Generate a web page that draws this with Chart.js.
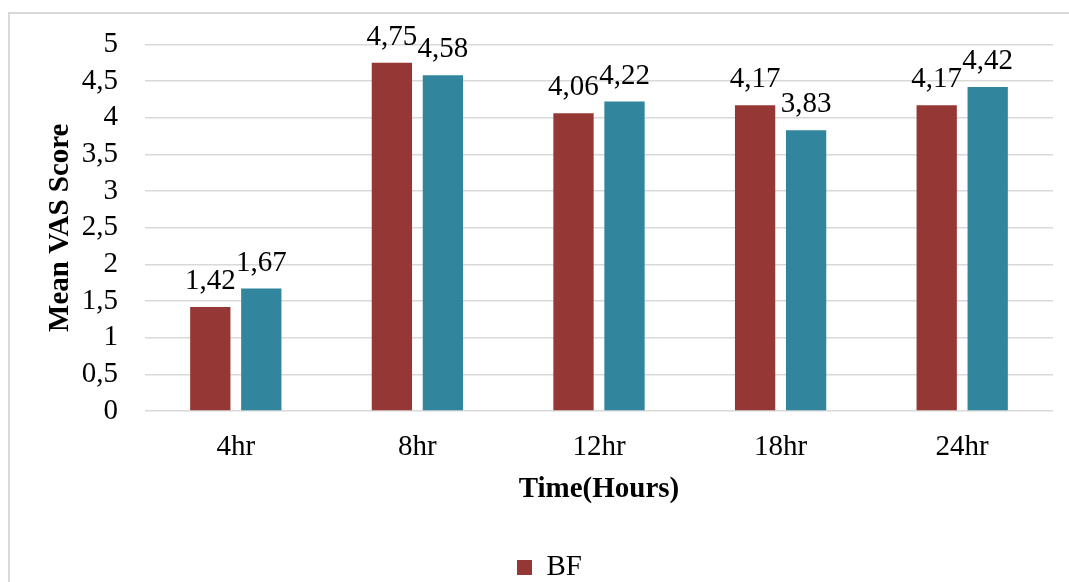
<!DOCTYPE html>
<html><head><meta charset="utf-8">
<script src="https://cdn.jsdelivr.net/npm/chart.js@4"></script>
<style>
html,body{margin:0;padding:0;overflow:hidden;background:#fff;width:1069px;height:582px}
#frame{position:absolute;left:8px;top:12px;width:1100px;height:700px;border:2px solid #d9d9d9;box-sizing:border-box}
#wrap{position:absolute;left:0;top:0;width:1069px;height:600px}
</style></head><body>
<div id="frame"></div>
<div id="wrap"><canvas id="c" width="1069" height="600"></canvas></div>
<script>
const categories = ['4hr', '8hr', '12hr', '18hr', '24hr'];
const bfValues = [1.42, 4.75, 4.06, 4.17, 4.17];
const secondValues = [1.67, 4.58, 4.22, 3.83, 4.42];
const seriesNames = ['BF', 'Series 2'];
const yAxisTitle = 'Mean VAS Score';
const xAxisTitle = 'Time(Hours)';

const FONT = "'Liberation Serif', 'Times New Roman', serif";
const FS = 29;
const fmt = v => String(v).replace('.', ',');

const valueLabels = {
  id: 'valueLabels',
  afterDatasetsDraw(chart) {
    const ctx = chart.ctx;
    ctx.save();
    ctx.font = FS + 'px ' + FONT;
    ctx.fillStyle = '#000';
    ctx.textAlign = 'center';
    ctx.textBaseline = 'alphabetic';
    chart.data.datasets.forEach((ds, i) => {
      chart.getDatasetMeta(i).data.forEach((bar, j) => {
        ctx.fillText(fmt(ds.data[j]), bar.x, bar.y - 18);
      });
    });
    ctx.restore();
  }
};

new Chart(document.getElementById('c'), {
  type: 'bar',
  data: {
    labels: categories,
    datasets: [
      { label: seriesNames[0], data: bfValues, backgroundColor: '#953735', borderWidth: 0,
        categoryPercentage: 0.5617, barPercentage: 0.79 },
      { label: seriesNames[1], data: secondValues, backgroundColor: '#31859C', borderWidth: 0,
        categoryPercentage: 0.5617, barPercentage: 0.79 }
    ]
  },
  options: {
    responsive: false,
    animation: false,
    devicePixelRatio: 1,
    layout: { padding: { left: 46, right: 16, top: 42, bottom: 8 } },
    plugins: {
      tooltip: { enabled: false },
      legend: {
        position: 'bottom',
        labels: {
          filter: item => item.datasetIndex === 0,
          boxWidth: 15, boxHeight: 15, padding: 10,
          color: '#000',
          font: { family: FONT, size: FS }
        }
      }
    },
    scales: {
      x: {
        grid: { display: false, drawTicks: false },
        border: { display: false },
        ticks: { color: '#000', padding: 19, autoSkip: false, maxRotation: 0, font: { family: FONT, size: FS } },
        title: { display: true, text: xAxisTitle, color: '#000', padding: { top: 0, bottom: 39 },
                 font: { family: FONT, size: FS, weight: 'bold', lineHeight: 1 } },
        afterFit(scale) { scale.height = 132; }
      },
      y: {
        min: 0, max: 5,
        grid: { color: '#d9d9d9', lineWidth: 1.5, drawTicks: false },
        border: { display: false },
        ticks: { stepSize: 0.5, autoSkip: false, color: '#000', padding: 27, font: { family: FONT, size: FS },
                 callback: v => fmt(v) },
        title: { display: true, text: yAxisTitle, color: '#000', padding: 0,
                 font: { family: FONT, size: FS, weight: 'bold', lineHeight: 1 } },
        afterFit(scale) { scale.width = 99; }
      }
    }
  },
  plugins: [valueLabels]
});
</script>
</body></html>
